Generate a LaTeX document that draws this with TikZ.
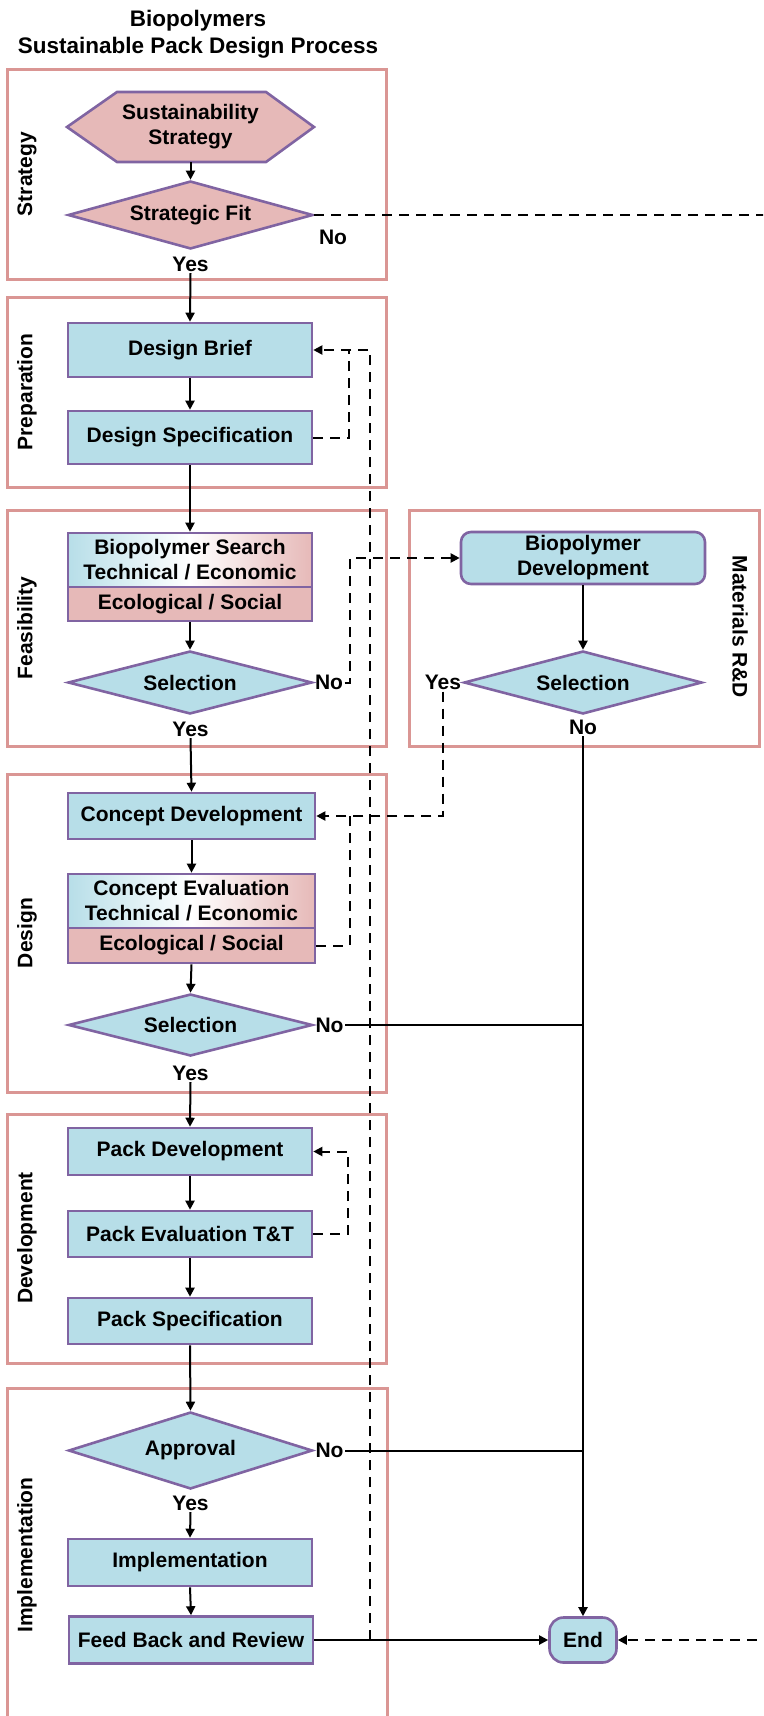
\documentclass[tikz,border=0pt]{standalone}
\usepackage{fontspec}
\setmainfont{Liberation Sans}
\usetikzlibrary{shapes.geometric,arrows.meta,calc}
\definecolor{fillblue}{HTML}{B7DEE8}
\definecolor{fillpink}{HTML}{E6B9B8}
\definecolor{edgepurple}{HTML}{8064A2}
\definecolor{laneedge}{HTML}{DA9694}
\newcommand\boxfont{\bfseries\fontsize{21}{25}\selectfont}
\newcommand\headfont{\bfseries\fontsize{22.5}{27}\selectfont}
\begin{document}
\begin{tikzpicture}[x=1pt,y=-1pt,
  proc/.style={rectangle, draw=edgepurple, line width=2.6pt, fill=fillblue,
    inner sep=0pt, minimum width=244pt, align=center, font=\boxfont},
  decision/.style={diamond, draw=edgepurple, line width=2.6pt, fill=fillblue,
    inner sep=0pt, shape aspect=3.5, minimum width=244pt, align=center, font=\boxfont},
  lane/.style={draw=laneedge, line width=3pt},
  lanelabel/.style={font=\boxfont, rotate=90},
  ynlabel/.style={font=\boxfont, inner sep=1.5pt},
  flowarrow/.style={line width=2pt, -{Triangle[length=9pt,width=9pt]}},
  solidline/.style={line width=2pt},
  fbdash/.style={line width=2pt, dash pattern=on 10pt off 7pt},
  fbdasharrow/.style={fbdash, -{Triangle[length=9pt,width=9pt]}}
]
\useasboundingbox (0,0) rectangle (763,1716);
\clip (0,0) rectangle (763,1716);

% title
\node[font=\headfont, anchor=base] (title1) at (198,26) {Biopolymers};
\node[font=\headfont, anchor=base] (title2) at (198,53) {Sustainable Pack Design Process};

% swim lanes
\draw[lane] (7,69) rectangle (386,279);
\draw[lane] (7,297) rectangle (386,487);
\draw[lane] (7,510) rectangle (386,746);
\draw[lane] (409,510) rectangle (759,746);
\draw[lane] (7,774) rectangle (386,1092);
\draw[lane] (7,1114) rectangle (386,1363);
\draw[lane] (7,1388) rectangle (387,1740);

\node[lanelabel] (lstrategy) at (27,174) {Strategy};
\node[lanelabel] (lprep) at (27,392) {Preparation};
\node[lanelabel] (lfeas) at (27,628) {Feasibility};
\node[lanelabel] (ldesign) at (27,933) {Design};
\node[lanelabel] (ldev) at (27,1238) {Development};
\node[lanelabel] (limpl) at (27,1555) {Implementation};
\node[font=\boxfont, rotate=-90] (lmat) at (740,627) {Materials R\&D};

% strategy
\coordinate (hexc) at (190.5,127);
\draw[draw=edgepurple, line width=2.6pt, fill=fillpink]
  ($(hexc)+(-123.5,0)$) -- ($(hexc)+(-73.5,-35)$) -- ($(hexc)+(75.5,-35)$)
  -- ($(hexc)+(123.5,0)$) -- ($(hexc)+(75.5,35)$) -- ($(hexc)+(-73.5,35)$) -- cycle;
\node[align=center, font=\boxfont, minimum width=150pt, minimum height=70pt, inner sep=0pt]
  (sust) at (hexc) {Sustainability\\Strategy};
\node[decision, fill=fillpink, minimum width=245pt, minimum height=68pt] (sfit) at (190.5,215) {Strategic Fit};
\node[ynlabel] (yes1) at (190.5,264) {Yes};
\node[ynlabel] (no1) at (333,237) {No};

% preparation
\node[proc, minimum height=54pt] (brief) at (190,350) {Design Brief};
\node[proc, minimum height=53pt] (spec) at (190,437.5) {Design Specification};

% feasibility
\node[proc, left color=fillblue, right color=fillpink, middle color=white, minimum height=54pt]
  (bsearch) at (190,560) {Biopolymer Search\\Technical / Economic};
\node[proc, fill=fillpink, minimum height=34pt] (bsearchB) at (190,604) {Ecological / Social};
\node[decision, minimum height=63pt] (sel1) at (190,682.5) {Selection};
\node[ynlabel, anchor=west] (no2) at (sel1.east) {No};
\node[ynlabel] (yes2) at (190.5,729) {Yes};

% materials R&D
\node[proc, rounded corners=10pt, minimum height=52pt] (biodev) at (583,558) {Biopolymer\\Development};
\node[decision, minimum width=238pt, minimum height=63pt] (sel2) at (583,682.5) {Selection};
\node[ynlabel, anchor=east] (yes3) at (sel2.west) {Yes};
\node[ynlabel] (no3) at (583,727) {No};

% design
\node[proc, minimum width=247pt, minimum height=46pt] (cdev) at (191.5,816) {Concept Development};
\node[proc, minimum width=247pt, left color=fillblue, right color=fillpink, middle color=white, minimum height=54pt]
  (ceval) at (191.5,901) {Concept Evaluation\\Technical / Economic};
\node[proc, minimum width=247pt, fill=fillpink, minimum height=35pt] (cevalB) at (191.5,945.5) {Ecological / Social};
\node[decision, minimum height=62pt] (sel3) at (190.5,1025) {Selection};
\node[ynlabel, anchor=west] (no4) at (sel3.east) {No};
\node[ynlabel] (yes4) at (190.5,1073) {Yes};

% development
\node[proc, minimum height=47pt] (pdev) at (190,1151.5) {Pack Development};
\node[proc, minimum height=46pt] (peval) at (190,1234) {Pack Evaluation T\&T};
\node[proc, minimum height=46pt] (pspec) at (190,1321) {Pack Specification};

% implementation
\node[decision, minimum height=77pt] (appr) at (190.5,1450.5) {Approval};
\node[ynlabel, anchor=west] (no5) at (appr.east) {No};
\node[ynlabel] (yes5) at (190.5,1503) {Yes};
\node[proc, minimum height=47pt] (impl) at (190,1562.5) {Implementation};
\node[proc, minimum height=47pt] (fb) at (191,1640) {Feed Back and Review};
\node[proc, rounded corners=14pt, minimum width=67pt, minimum height=45pt] (endn) at (583,1640) {End};

% main flow
\draw[flowarrow] (sust.south) -- (sfit.north);
\draw[flowarrow] (yes1.south) -- (brief.north);
\draw[flowarrow] (brief.south) -- (spec.north);
\draw[flowarrow] (spec.south) -- (bsearch.north);
\draw[flowarrow] (bsearchB.south) -- (sel1.north);
\draw[flowarrow] (yes2.south) -- (cdev.north);
\draw[flowarrow] (cdev.south) -- (ceval.north);
\draw[flowarrow] (cevalB.south) -- (sel3.north);
\draw[flowarrow] (yes4.south) -- (pdev.north);
\draw[flowarrow] (pdev.south) -- (peval.north);
\draw[flowarrow] (peval.south) -- (pspec.north);
\draw[flowarrow] (pspec.south) -- (appr.north);
\draw[flowarrow] (yes5.south) -- (impl.north);
\draw[flowarrow] (impl.south) -- (fb.north);
\draw[flowarrow] (fb.east) -- (endn.west);
\draw[flowarrow] (biodev.south) -- (sel2.north);

% rejections to End
\draw[flowarrow] (no3.south) -- (endn.north);
\draw[solidline] (no4.east) -- (no4.east -| endn.north);
\draw[solidline] (no5.east) -- (no5.east -| endn.north);

% strategic fit "No" runs round the right edge to End
\coordinate (edgetop) at (775,215);
\coordinate (edgebot) at (775,1640);
\draw[fbdasharrow] (sfit.east) -- (edgetop) -- (edgebot) -- (endn.east);

% feedback loops
\coordinate (reviewjoin) at (370,1640);
\coordinate (prepjoin) at (349,350);
\coordinate (designjoin) at (350,816);
\draw[fbdasharrow] (reviewjoin) |- (brief.east);
\draw[fbdash] (spec.east) -| (prepjoin);
\draw[fbdasharrow] (no2.east) -- ++(5,0) |- (biodev.west);
\draw[fbdasharrow] (yes3.south) |- (cdev.east);
\draw[fbdash] (cevalB.east) -| (designjoin);
\draw[fbdasharrow] (peval.east) -- ++(35,0) |- (pdev.east);
\end{tikzpicture}
\end{document}
